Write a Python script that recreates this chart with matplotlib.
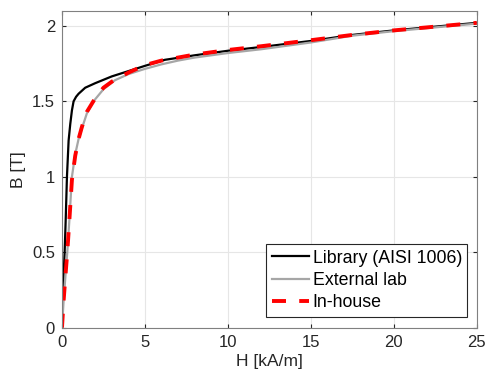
import numpy as np
import matplotlib.pyplot as plt

plt.rcParams['font.family'] = ['Liberation Sans', 'DejaVu Sans']

# B-H curves, H in kA/m and B in T
H_lib = [0, 0.05, 0.1, 0.16, 0.22, 0.3, 0.4, 0.5, 0.6, 0.7, 0.85, 1.0, 1.4, 2.0,
         3.0, 4.0, 5.0, 6.2, 8, 10, 12, 15, 17.5, 20, 22.5, 25]
B_lib = [0, 0.2, 0.35, 0.5, 0.7, 1.0, 1.24, 1.35, 1.44, 1.5, 1.53, 1.55, 1.59, 1.62,
         1.665, 1.70, 1.735, 1.775, 1.805, 1.835, 1.86, 1.90, 1.94, 1.97, 1.995, 2.02]

H_ext = [0, 0.1, 0.2, 0.32, 0.45, 0.6, 0.8, 1.0, 1.2, 1.5, 1.9, 2.5, 3.2, 4.0, 5.0,
         6.0, 7, 8, 10, 12, 15, 17.5, 20, 22.5, 25]
B_ext = [0, 0.18, 0.33, 0.5, 0.72, 1.0, 1.15, 1.25, 1.32, 1.42, 1.5, 1.58, 1.64, 1.68,
         1.715, 1.745, 1.77, 1.79, 1.82, 1.845, 1.89, 1.935, 1.965, 1.99, 2.015]

H_in = [0, 0.1, 0.2, 0.32, 0.45, 0.6, 0.8, 1.0, 1.2, 1.5, 2.0, 2.5, 3.0, 4.0, 5.0,
        6.0, 8, 10, 12, 15, 17.5, 20, 22.5, 25]
B_in = [0, 0.18, 0.33, 0.5, 0.72, 0.98, 1.14, 1.25, 1.33, 1.43, 1.52, 1.59, 1.63, 1.69,
        1.74, 1.77, 1.81, 1.84, 1.865, 1.905, 1.94, 1.97, 1.995, 2.02]

labels = ['Library (AISI 1006)', 'External lab', 'In-house']

axcol = '#262626'
fig = plt.figure(figsize=(4.88, 3.85), dpi=100)
ax = fig.add_axes([0.127, 0.149, 0.85, 0.823])

ax.plot(H_lib, B_lib, color='black', lw=1.6, label=labels[0])
ax.plot(H_ext, B_ext, color='#a6a6a6', lw=1.6, label=labels[1])
ax.plot(H_in, B_in, color='red', lw=2.8, dashes=(3.6, 3.4), label=labels[2])

ax.set_xlim(0, 25)
ax.set_ylim(0, 2.1)
ax.set_xticks(np.arange(0, 26, 5))
ax.set_yticks([0, 0.5, 1, 1.5, 2])
ax.set_yticklabels(['0', '0.5', '1', '1.5', '2'])
ax.grid(True, color='#e6e6e6', lw=0.8)
ax.set_axisbelow(True)
ax.tick_params(direction='in', top=True, right=True, length=3, color=axcol,
               labelsize=12, labelcolor=axcol, pad=5)
for s in ax.spines.values():
    s.set_color('#808080')
    s.set_linewidth(0.8)

ax.set_xlabel('H [kA/m]', fontsize=12.5, color=axcol, labelpad=3)
ax.set_ylabel('B [T]', fontsize=12.5, color=axcol, labelpad=4)

leg = ax.legend(loc='lower right', bbox_to_anchor=(0.977, 0.035), fontsize=12.8,
                fancybox=False, framealpha=1, edgecolor=axcol, handlelength=2.1,
                handletextpad=0.2, borderpad=0.3, labelspacing=0.3, borderaxespad=0)
leg.get_frame().set_linewidth(0.8)

fig.savefig('out.png', dpi=100)
